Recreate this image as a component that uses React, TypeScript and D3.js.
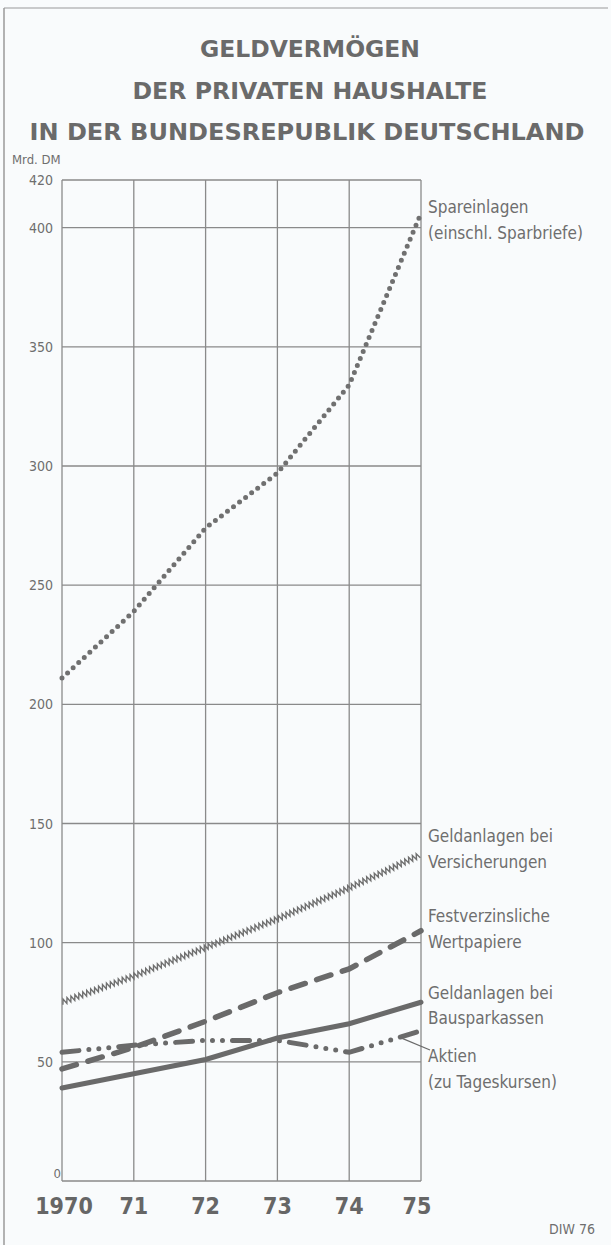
import React from "react";
import * as d3 from "d3";

const years = [1970, 1971, 1972, 1973, 1974, 1975];
const yearLabels = ["1970", "71", "72", "73", "74", "75"];
const yTicks = [50, 100, 150, 200, 250, 300, 350, 400];
const spareinlagen = [211, 239, 274, 297, 334, 406];
const versicherungen = [75, 86, 98, 110, 123, 137];
const festverzinslich = [47, 56, 67, 79, 89, 105];
const bausparkassen = [39, 45, 51, 60, 66, 75];
const aktien = [54, 57, 59, 59, 54, 63];

const W = 611;
const H = 1245;
const ink = "#6a6a6a";
const grid = "#8a8a8a";
const txt = "#6e6e6e";
const cond = "'DejaVu Sans Condensed', 'DejaVu Sans', sans-serif";

const x = d3.scaleLinear().domain([1970, 1975]).range([62, 421]);
const y = d3.scaleLinear().domain([0, 420]).range([1181, 180]);

const line = d3
  .line<number>()
  .x((_, i) => x(years[i]))
  .y((v) => y(v));

function zigzag(values: number[], period: number, amp: number): string {
  const pts = values.map((v, i) => [x(years[i]), y(v)] as [number, number]);
  const out: [number, number][] = [];
  let k = 0;
  let carry = 0;
  for (let s = 0; s < pts.length - 1; s++) {
    const [x0, y0] = pts[s];
    const [x1, y1] = pts[s + 1];
    const len = Math.hypot(x1 - x0, y1 - y0);
    const ux = (x1 - x0) / len;
    const uy = (y1 - y0) / len;
    const nx = -uy;
    const ny = ux;
    let t = carry;
    while (t < len) {
      const sgn = k % 2 === 0 ? 1 : -1;
      out.push([x0 + ux * t + nx * amp * sgn, y0 + uy * t + ny * amp * sgn]);
      k++;
      t += period / 2;
    }
    carry = t - len;
  }
  return d3.line()(out) || "";
}

export default function App() {
  const labelX = 428;
  return (
    <svg width={W} height={H} style={{ display: "block", position: "absolute", left: 0, top: 0, background: "#f9fbfc" }}>
      <rect x={0} y={0} width={W} height={H} fill="#f9fbfc" />
      {/* frame */}
      <line x1={4} y1={8} x2={608} y2={8} stroke="#9a9a9a" strokeWidth={1.2} />
      <line x1={4} y1={8} x2={4} y2={H} stroke="#9a9a9a" strokeWidth={1.5} />

      {/* title */}
      <g fill="#6a6a6a" fontFamily="'DejaVu Sans', sans-serif" fontWeight="bold" fontSize={23} textAnchor="middle">
        <text x={310} y={57} textLength={220} lengthAdjust="spacingAndGlyphs">GELDVERMÖGEN</text>
        <text x={310} y={99} textLength={355} lengthAdjust="spacingAndGlyphs">DER PRIVATEN HAUSHALTE</text>
        <text x={307} y={140} textLength={555} lengthAdjust="spacingAndGlyphs">IN DER BUNDESREPUBLIK DEUTSCHLAND</text>
      </g>

      <text x={12} y={164} fontFamily={cond} fontSize={13} fill={txt} style={{ fontStretch: "condensed" }}>Mrd. DM</text>

      {/* grid */}
      <g stroke={grid} strokeWidth={1.3}>
        {[0, ...yTicks, 420].map((t) => (
          <line key={"h" + t} x1={x(1970)} x2={x(1975)} y1={y(t)} y2={y(t)} />
        ))}
        {years.map((yr) => (
          <line key={"v" + yr} x1={x(yr)} x2={x(yr)} y1={y(420)} y2={y(0)} />
        ))}
      </g>

      {/* y labels */}
      <g fontFamily={cond} fontSize={14} fill={txt} textAnchor="end" style={{ fontStretch: "condensed" }}>
        {[...yTicks, 420].map((t) => (
          <text key={t} x={53} y={y(t) + 5}>{t}</text>
        ))}
        <text x={61} y={y(0) - 3} fontSize={13}>0</text>
      </g>

      {/* x labels */}
      <g fontFamily="'DejaVu Sans', sans-serif" fontWeight="bold" fontSize={23} fill="#666" textAnchor="middle">
        {years.map((yr, i) => (
          <text key={yr} x={i === 0 ? x(yr) + 2 : i === 5 ? x(yr) - 4 : x(yr)} y={1214} style={{ fontStretch: "condensed" }}>
            {yearLabels[i]}
          </text>
        ))}
      </g>

      {/* series */}
      <path d={line(spareinlagen) || ""} fill="none" stroke="#707070" strokeWidth={5} strokeLinecap="round" strokeDasharray="0 7.6" />
      <path d={zigzag(versicherungen, 4.2, 2.7)} fill="none" stroke="#707070" strokeWidth={1.4} />
      <path d={line(festverzinslich) || ""} fill="none" stroke={ink} strokeWidth={5.5} strokeLinecap="round" strokeDasharray="15 12" />
      <path d={line(bausparkassen) || ""} fill="none" stroke={ink} strokeWidth={5} strokeLinecap="round" />
      <path d={line(aktien) || ""} fill="none" stroke={ink} strokeWidth={5} strokeLinecap="round" strokeDasharray="17 10 0 10 0 10 0 10" />

      {/* Aktien leader */}
      <line x1={x(1975) - 20} y1={y(aktien[5]) + 7} x2={labelX + 2} y2={1050} stroke={ink} strokeWidth={1.2} />

      {/* series labels */}
      <g fontFamily={cond} fontSize={17} fill={txt} style={{ fontStretch: "condensed" }}>
        <text x={labelX} y={213}>Spareinlagen</text>
        <text x={labelX} y={239}>(einschl. Sparbriefe)</text>
        <text x={labelX} y={842}>Geldanlagen bei</text>
        <text x={labelX} y={868}>Versicherungen</text>
        <text x={labelX} y={922}>Festverzinsliche</text>
        <text x={labelX} y={948}>Wertpapiere</text>
        <text x={labelX} y={999}>Geldanlagen bei</text>
        <text x={labelX} y={1024}>Bausparkassen</text>
        <text x={labelX} y={1062}>Aktien</text>
        <text x={labelX} y={1088}>(zu Tageskursen)</text>
      </g>

      <text x={595} y={1234} textAnchor="end" fontFamily={cond} fontSize={14} fill={txt} style={{ fontStretch: "condensed" }}>DIW 76</text>
    </svg>
  );
}
